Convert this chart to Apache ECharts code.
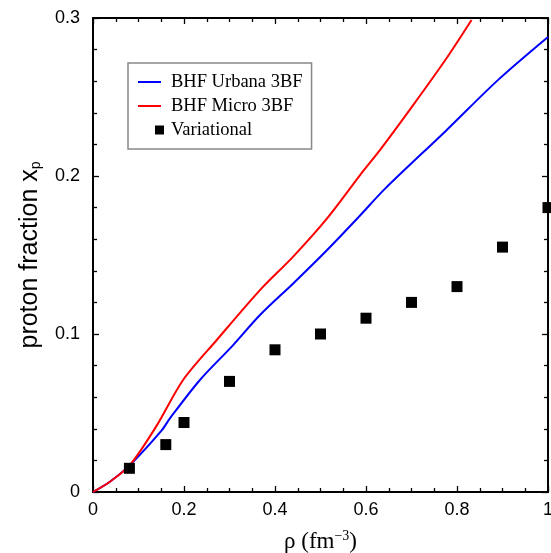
<!DOCTYPE html>
<html>
<head>
<meta charset="utf-8">
<script src="https://cdn.jsdelivr.net/npm/echarts@6/dist/echarts.min.js"></script>
<style>html,body{margin:0;padding:0;background:#fff}#c{width:551px;height:553px}</style>
</head>
<body>
<div id="c"></div>
<script>
var urbanaX = [0, 0.037, 0.081, 0.151, 0.169, 0.235, 0.308, 0.367, 0.44, 0.514, 0.587, 0.642, 0.777, 0.891, 1.0];
var urbanaY = [0, 0.0065, 0.017, 0.039, 0.0466, 0.0709, 0.093, 0.112, 0.132, 0.153, 0.175, 0.192, 0.229, 0.261, 0.288];
var microX = [0, 0.037, 0.081, 0.14, 0.198, 0.272, 0.367, 0.44, 0.514, 0.587, 0.631, 0.704, 0.777, 0.832];
var microY = [0, 0.0065, 0.017, 0.042, 0.0709, 0.0962, 0.1278, 0.149, 0.173, 0.2006, 0.2165, 0.245, 0.2745, 0.2987];
var varX = [0.08, 0.16, 0.2, 0.3, 0.4, 0.5, 0.6, 0.7, 0.8, 0.9, 1.0];
var varY = [0.015, 0.03, 0.044, 0.07, 0.09, 0.1, 0.11, 0.12, 0.13, 0.155, 0.18];
var xTicks = { min: 0, max: 1, interval: 0.2 };
var yTicks = { min: 0, max: 0.3, interval: 0.1 };

function zip(a, b) { return a.map(function (v, i) { return [v, b[i]]; }); }

var tickFont = { fontFamily: 'Liberation Sans', fontSize: 18, color: '#000' };
function axisBase(extra) {
  return Object.assign({
    type: 'value',
    axisLine: { onZero: false, lineStyle: { color: '#000', width: 2 } },
    axisTick: { inside: true, length: 6, lineStyle: { color: '#000', width: 1.3 } },
    minorTick: { show: true, length: 4, lineStyle: { color: '#000', width: 1.3 } },
    splitLine: { show: false }
  }, extra);
}
var chart = echarts.init(document.getElementById('c'));
chart.setOption({
  animation: false,
  backgroundColor: '#fff',
  grid: { left: 93, right: 3, top: 18, bottom: 61, outerBoundsMode: 'none', containLabel: false },
  xAxis: [axisBase({
    min: xTicks.min, max: xTicks.max, interval: xTicks.interval, position: 'bottom',
    name: 'ρ (fm{sup|−3})', nameLocation: 'middle', nameGap: 37,
    nameTextStyle: { fontFamily: 'Liberation Serif', fontSize: 23, color: '#000',
      rich: { sup: { fontFamily: 'Liberation Serif', fontSize: 14, verticalAlign: 'top', padding: [0, 0, 12, 0], color: '#000' } } },
    minorTick: { show: true, splitNumber: 4, length: 4, lineStyle: { color: '#000', width: 1.3 } },
    axisLabel: Object.assign({ margin: 9 }, tickFont)
  }), axisBase({
    min: xTicks.min, max: xTicks.max, interval: xTicks.interval, position: 'top',
    minorTick: { show: true, splitNumber: 4, length: 4, lineStyle: { color: '#000', width: 1.3 } },
    axisLabel: { show: false }
  })],
  yAxis: [axisBase({
    min: yTicks.min, max: yTicks.max, interval: yTicks.interval, position: 'left',
    name: 'proton fraction x{sub|p}', nameLocation: 'middle', nameGap: 50, nameRotate: 90,
    nameTextStyle: { fontFamily: 'Liberation Sans', fontSize: 25, color: '#000',
      rich: { sub: { fontFamily: 'Liberation Sans', fontSize: 14, verticalAlign: 'bottom', padding: [12, 0, 0, 0], color: '#000' } } },
    minorTick: { show: true, splitNumber: 5, length: 4, lineStyle: { color: '#000', width: 1.3 } },
    axisLabel: Object.assign({ margin: 13 }, tickFont)
  }), axisBase({
    min: yTicks.min, max: yTicks.max, interval: yTicks.interval, position: 'right',
    minorTick: { show: true, splitNumber: 5, length: 4, lineStyle: { color: '#000', width: 1.3 } },
    axisLabel: { show: false }
  })],
  legend: [{
    orient: 'vertical', left: 128, top: 63, itemWidth: 23, itemHeight: 2, itemGap: 4,
    padding: [9, 9, 33, 10], icon: 'rect',
    backgroundColor: '#fff', borderColor: '#888', borderWidth: 1.5,
    textStyle: { fontFamily: 'Liberation Serif', fontSize: 18.5, lineHeight: 20, color: '#000', padding: [0, 0, 0, 5] },
    data: ['BHF Urbana 3BF', 'BHF Micro 3BF']
  }, {
    orient: 'vertical', left: 155, top: 120, itemWidth: 9, itemHeight: 9, padding: 0,
    icon: 'rect', itemStyle: { opacity: 1 },
    textStyle: { fontFamily: 'Liberation Serif', fontSize: 18.5, lineHeight: 20, color: '#000', padding: [0, 0, 0, 2] },
    data: ['Variational']
  }],
  series: [{
    name: 'BHF Urbana 3BF', type: 'line', smooth: 0.3, symbol: 'none', xAxisIndex: 0, yAxisIndex: 0,
    lineStyle: { color: '#0000ff', width: 2 }, itemStyle: { color: '#0000ff' },
    data: zip(urbanaX, urbanaY)
  }, {
    name: 'BHF Micro 3BF', type: 'line', smooth: 0.3, symbol: 'none', xAxisIndex: 1, yAxisIndex: 1,
    lineStyle: { color: '#ff0000', width: 2 }, itemStyle: { color: '#ff0000' },
    data: zip(microX, microY)
  }, {
    name: 'Variational', type: 'scatter', symbol: 'rect', symbolSize: 11, xAxisIndex: 0, yAxisIndex: 0,
    itemStyle: { color: '#000', opacity: 1 }, data: zip(varX, varY), clip: false, z: 5
  }]
});
</script>
</body>
</html>
